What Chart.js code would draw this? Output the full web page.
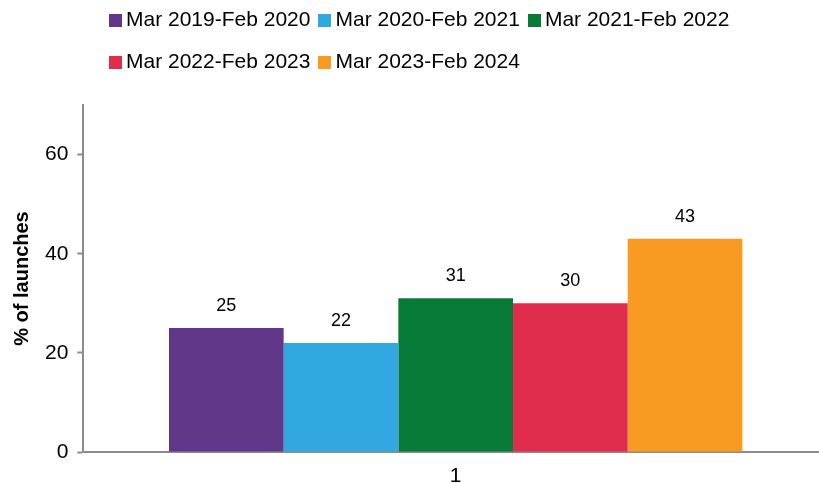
<!DOCTYPE html>
<html>
<head>
<meta charset="utf-8">
<script src="https://cdn.jsdelivr.net/npm/chart.js@4/dist/chart.umd.min.js"></script>
<style>
    html, body { margin: 0; padding: 0; background: #fff; overflow: hidden; }
    #wrap { position: relative; width: 819px; height: 484px; overflow: hidden; }
    #chartBox { position: absolute; left: 0; top: 0; width: 828px; height: 484px; }
    #legend { position: absolute; left: 109px; top: 0; width: 700px; font-family: "Liberation Sans", Arial, sans-serif; font-size: 21px; color: #000; }
    .legend-row { height: 42px; line-height: 37px; white-space: nowrap; }
    .legend-item { display: inline-block; margin-right: 8px; }
    .legend-box { display: inline-block; width: 13px; height: 13px; margin-right: 4px; vertical-align: -1px; }
</style>
</head>
<body>
<div id="wrap">
    <div id="chartBox"><canvas id="chart" width="828" height="484"></canvas></div>
    <div id="legend"></div>
</div>
<script>
// Data
const categories = ['1'];
const seriesNames = ['Mar 2019-Feb 2020', 'Mar 2020-Feb 2021', 'Mar 2021-Feb 2022', 'Mar 2022-Feb 2023', 'Mar 2023-Feb 2024'];
const seriesValues = [25, 22, 31, 30, 43];
const seriesColors = ['#613789', '#31a8e0', '#077a37', '#e02d4e', '#f99b22'];
const yTicks = [0, 20, 40, 60];
const legendRows = [[0, 1, 2], [3, 4]];

// HTML legend
const legendEl = document.getElementById('legend');
legendEl.innerHTML = legendRows.map(row => `
    <div class="legend-row">${row.map(i => `<span class="legend-item"><span class="legend-box" style="background:${seriesColors[i]}"></span>${seriesNames[i]}</span>`).join('')}</div>
`).join('');

// Value labels above bars
const valueLabels = {
    id: 'valueLabels',
    afterDatasetsDraw(chart) {
        const ctx = chart.ctx;
        ctx.save();
        ctx.font = '18px "Liberation Sans", Arial, sans-serif';
        ctx.fillStyle = '#000';
        ctx.textAlign = 'center';
        ctx.textBaseline = 'middle';
        chart.data.datasets.forEach((ds, i) => {
            chart.getDatasetMeta(i).data.forEach((bar, j) => {
                ctx.fillText(ds.data[j], bar.x, bar.y - 22);
            });
        });
        ctx.restore();
    }
};

new Chart(document.getElementById('chart'), {
    type: 'bar',
    data: {
        labels: categories,
        datasets: seriesNames.map((name, i) => ({
            label: name,
            data: [seriesValues[i]],
            backgroundColor: seriesColors[i],
            categoryPercentage: 0.77,
            barPercentage: 1.0
        }))
    },
    options: {
        responsive: false,
        animation: false,
        layout: { padding: { top: 105, left: 10, right: 0, bottom: -17 } },
        plugins: {
            legend: { display: false },
            tooltip: { enabled: false }
        },
        scales: {
            x: {
                grid: { display: false, drawTicks: false },
                border: { color: '#8c8c8c', width: 2 },
                ticks: {
                    color: '#000',
                    padding: 14,
                    font: { family: '"Liberation Sans", Arial, sans-serif', size: 21, lineHeight: 1 }
                }
            },
            y: {
                min: 0,
                max: 70,
                afterBuildTicks: axis => { axis.ticks = yTicks.map(v => ({ value: v })); },
                grid: { drawOnChartArea: false, color: '#8c8c8c', tickLength: 6, tickWidth: 2 },
                border: { color: '#8c8c8c', width: 2 },
                ticks: {
                    color: '#000',
                    padding: 9,
                    font: { family: '"Liberation Sans", Arial, sans-serif', size: 21 }
                },
                title: {
                    display: true,
                    text: '% of launches',
                    color: '#000',
                    padding: { top: 0, bottom: 2 },
                    font: { family: '"Liberation Sans", Arial, sans-serif', size: 20, weight: 'bold' }
                }
            }
        }
    },
    plugins: [valueLabels]
});
</script>
</body>
</html>
